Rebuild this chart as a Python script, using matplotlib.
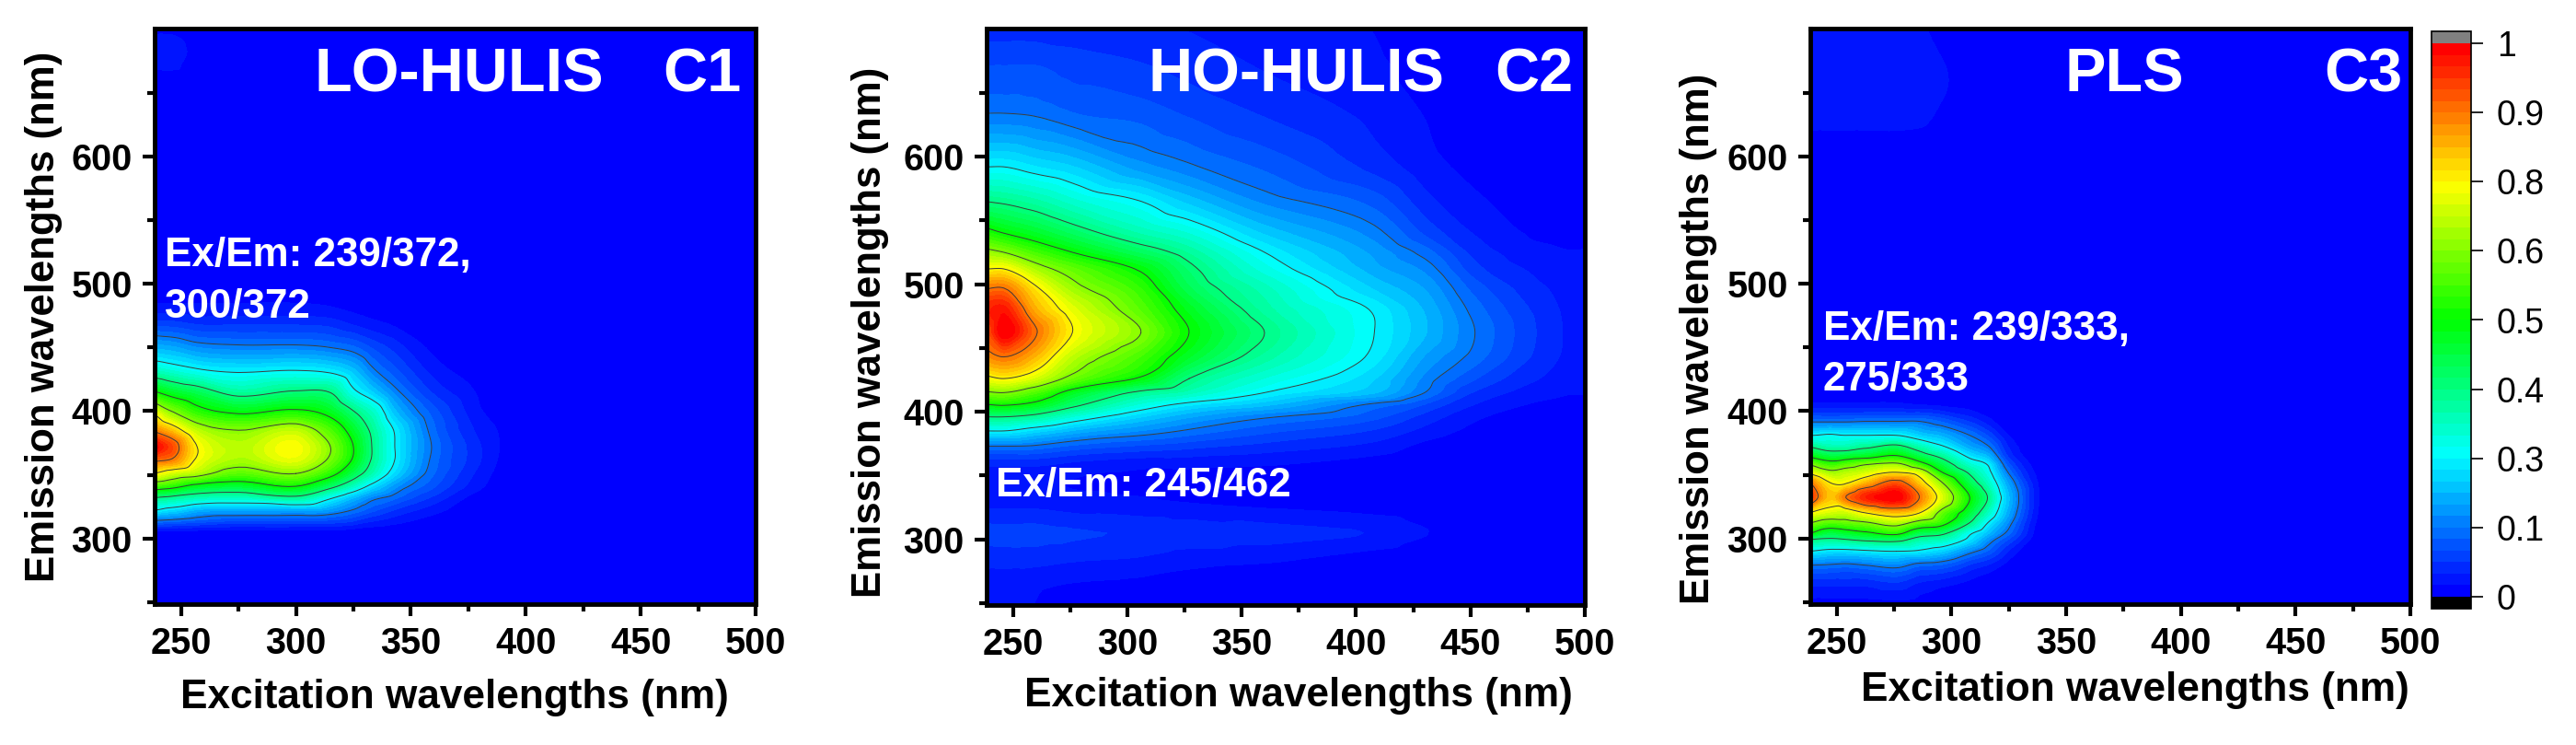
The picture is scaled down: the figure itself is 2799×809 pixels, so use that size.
import numpy as np
import matplotlib
matplotlib.use("Agg")
import matplotlib.pyplot as plt
from matplotlib.colors import LinearSegmentedColormap, ListedColormap, BoundaryNorm
from matplotlib.cm import ScalarMappable
from matplotlib.ticker import FixedLocator
from matplotlib.tri import Triangulation, UniformTriRefiner, CubicTriInterpolator

plt.rcParams['font.family'] = ['Liberation Sans', 'DejaVu Sans']
W, H = 2799, 809

# ---------- data ----------
ex1 = [238, 246, 257, 275, 300, 315, 325, 333, 343, 359, 378, 388, 400, 500]
em1 = [248, 295, 305, 314, 322, 332, 341, 351, 362, 372, 385, 398, 416, 432, 452, 470, 484, 510, 660, 672, 690, 701]
z1 = [
 [0,0,0,0,0,0,0,0,0,0,0,0,0,0],
 [0,0,0,0,0,0,0,0,0,0,0,0,0,0],
 [.012,.012,.012,.012,.012,.01,.008,.006,.004,.002,0,0,0,0],
 [.125,.115,.10,.085,.085,.08,.065,.045,.03,.012,0,0,0,0],
 [.25,.22,.18,.17,.17,.155,.12,.09,.06,.03,.005,0,0,0],
 [.375,.355,.325,.31,.355,.26,.19,.14,.11,.06,.012,0,0,0],
 [.56,.53,.47,.445,.50,.40,.31,.23,.155,.09,.03,.01,0,0],
 [.75,.70,.66,.58,.625,.53,.42,.33,.22,.11,.04,.015,0,0],
 [.90,.87,.74,.66,.72,.61,.49,.37,.25,.12,.05,.02,0,0],
 [1.0,.92,.75,.675,.74,.625,.50,.375,.25,.125,.05,.022,0,0],
 [.87,.80,.68,.625,.68,.57,.46,.36,.245,.115,.04,.02,0,0],
 [.75,.645,.55,.50,.53,.48,.39,.32,.20,.10,.03,.012,0,0],
 [.50,.45,.41,.34,.375,.365,.26,.205,.135,.06,.02,0,0,0],
 [.315,.29,.26,.24,.25,.235,.195,.135,.09,.035,.01,0,0,0],
 [.17,.16,.135,.125,.125,.115,.10,.075,.05,.015,.004,0,0,0],
 [.065,.065,.055,.055,.055,.05,.035,.025,.015,.005,0,0,0,0],
 [.022,.022,.022,.022,.022,.018,.012,.008,.004,0,0,0,0,0],
 [0,0,0,0,0,0,0,0,0,0,0,0,0,0],
 [0,0,0,0,0,0,0,0,0,0,0,0,0,0],
 [.03,.03,0,0,0,0,0,0,0,0,0,0,0,0],
 [.03,.03,.01,0,0,0,0,0,0,0,0,0,0,0],
 [.01,.01,0,0,0,0,0,0,0,0,0,0,0,0],
]

ex2 = [238, 246, 260, 276, 306, 327, 360, 408, 430, 452, 490, 500]
em2 = [248, 265, 285, 305, 325, 345, 360, 373, 385, 396, 405, 415, 426, 443, 462, 480, 497, 512, 525, 540, 565, 592, 634, 670, 701]
z2 = [
 [.025,.025,.02,.01,.005,0,0,0,0,0,0,0],
 [.03,.03,.025,.02,.015,.01,.005,0,0,0,0,0],
 [.05,.05,.05,.045,.04,.03,.025,.01,0,0,0,0],
 [.07,.07,.07,.065,.06,.055,.05,.04,.022,0,0,0],
 [.04,.04,.04,.035,.03,.025,.02,.012,.005,0,0,0],
 [.03,.03,.025,.02,.015,.01,.005,0,0,0,0,0],
 [.05,.05,.05,.04,.03,.03,.025,.012,.005,0,0,0],
 [.125,.125,.12,.10,.08,.07,.055,.035,.015,.005,0,0],
 [.25,.25,.22,.185,.145,.12,.09,.06,.035,.015,0,0],
 [.375,.375,.35,.29,.21,.17,.13,.09,.055,.025,.005,.005],
 [.49,.50,.47,.39,.28,.23,.19,.115,.08,.04,.012,.01],
 [.615,.625,.57,.47,.36,.32,.25,.19,.125,.06,.024,.022],
 [.73,.75,.70,.60,.49,.375,.29,.21,.14,.085,.032,.026],
 [.85,.875,.81,.68,.56,.46,.345,.24,.165,.115,.04,.032],
 [.90,1.0,.88,.75,.625,.50,.375,.25,.19,.125,.042,.032],
 [.95,.97,.82,.72,.58,.47,.345,.245,.185,.115,.04,.031],
 [.87,.875,.76,.65,.54,.42,.32,.205,.165,.095,.035,.028],
 [.75,.75,.66,.59,.49,.39,.28,.175,.14,.07,.03,.025],
 [.65,.625,.56,.50,.41,.35,.25,.16,.115,.055,.023,.022],
 [.53,.50,.46,.41,.33,.29,.205,.135,.08,.04,.012,.012],
 [.375,.365,.34,.30,.25,.20,.14,.095,.05,.025,.008,.006],
 [.25,.25,.23,.21,.155,.13,.10,.055,.03,.015,.005,.003],
 [.125,.125,.12,.105,.095,.08,.06,.035,.02,.01,0,0],
 [.085,.085,.085,.075,.065,.055,.04,.025,.012,.005,0,0],
 [.05,.05,.05,.05,.045,.04,.03,.02,.006,.002,0,0],
]

ex3 = [238, 247, 254, 263, 276, 286, 296, 308, 316, 325, 338, 350, 500]
em3 = [248, 265, 279, 290, 299, 304, 312, 320, 332, 344, 352, 358, 364, 372, 381, 392, 404, 415, 500, 612, 625, 660, 701]
z3 = [
 [.01,.01,.01,.01,.01,.01,0,0,0,0,0,0,0],
 [.05,.05,.05,.05,.06,.04,.03,.015,.006,0,0,0,0],
 [.125,.12,.115,.125,.14,.11,.10,.06,.04,.012,0,0,0],
 [.25,.23,.23,.24,.25,.24,.21,.14,.10,.04,0,0,0],
 [.375,.36,.37,.39,.40,.34,.32,.23,.15,.08,.004,0,0],
 [.50,.43,.45,.48,.52,.42,.39,.26,.19,.11,.008,0,0],
 [.625,.57,.585,.61,.66,.58,.53,.37,.245,.14,.012,0,0],
 [.75,.70,.69,.75,.80,.75,.59,.44,.31,.17,.018,0,0],
 [.95,.80,.875,.96,1.0,.875,.71,.50,.37,.19,.022,0,0],
 [.875,.75,.74,.81,.90,.79,.625,.42,.31,.16,.018,0,0],
 [.73,.65,.67,.70,.75,.70,.50,.36,.27,.12,.012,0,0],
 [.625,.55,.58,.625,.65,.55,.43,.30,.245,.09,.006,0,0],
 [.50,.45,.46,.48,.52,.44,.36,.24,.19,.06,0,0,0],
 [.375,.33,.33,.36,.40,.33,.26,.17,.13,.04,0,0,0],
 [.25,.26,.25,.25,.25,.21,.18,.125,.08,.02,0,0,0],
 [.12,.12,.12,.125,.125,.125,.10,.06,.03,0,0,0,0],
 [.03,.03,.03,.03,.03,.025,.02,.012,0,0,0,0,0],
 [.01,.01,.01,.01,.01,0,0,0,0,0,0,0,0],
 [0,0,0,0,0,0,0,0,0,0,0,0,0],
 [0,0,0,0,0,0,0,0,0,0,0,0,0],
 [.03,.03,.03,.03,.03,.025,.01,0,0,0,0,0,0],
 [.03,.03,.03,.03,.03,.03,.025,.005,0,0,0,0,0],
 [.03,.03,.03,.03,.03,.025,.01,0,0,0,0,0,0],
]

x_ticks = [250, 300, 350, 400, 450, 500]
y_ticks = [300, 400, 500, 600]
cb_ticks = [0, .125, .25, .375, .5, .625, .75, .875, 1]
cb_labels = ['0', '0.1', '0.3', '0.4', '0.5', '0.6', '0.8', '0.9', '1']
contour_levels = [.125, .25, .375, .5, .625, .75, .875]
xlabel = 'Excitation wavelengths (nm)'
ylabel = 'Emission wavelengths (nm)'
titles = ['LO-HULIS', 'HO-HULIS', 'PLS']
comps = ['C1', 'C2', 'C3']

# ---------- colours ----------
base = LinearSegmentedColormap.from_list('eem', ['#0000ff', '#00ffff', '#00ff00', '#ffff00', '#ff0000'])
cmap = ListedColormap(base(np.linspace(0, 1, 48)))
cmap.set_under('black')
cmap.set_over('#808080')
levels = np.linspace(0, 1, 49)
norm = BoundaryNorm(levels, cmap.N)

fig = plt.figure(figsize=(W / 100, H / 100), dpi=100, facecolor='white')


def axes_px(l, r, t, b):
    return fig.add_axes([l / W, 1 - b / H, (r - l) / W, (b - t) / H])


def text_px(x, y, s, **kw):
    fig.text(x / W, 1 - y / H, s, fontweight='bold', **kw)


panels = [
    dict(ex=ex1, em=em1, z=z1, box=(168, 821, 31, 656), xl=(494, 758), yl=(48, 344),
         title=(342, 83), comp=(720, 83), notes=[(179, 278, 'Ex/Em: 239/372,'), (179, 333, '300/372')]),
    dict(ex=ex2, em=em2, z=z2, box=(1072, 1722, 31, 657), xl=(1411, 755), yl=(945, 361),
         title=(1248, 83), comp=(1624, 83), notes=[(1082, 528, 'Ex/Em: 245/462')]),
    dict(ex=ex3, em=em3, z=z3, box=(1967, 2619, 31, 656), xl=(2320, 750), yl=(1845, 368),
         title=(2243, 83), comp=(2525, 83), notes=[(1981, 358, 'Ex/Em: 239/333,'), (1981, 413, '275/333')]),
]

for i, p in enumerate(panels):
    ax = axes_px(*p['box'])
    ax.set_facecolor('#0000ff')
    X, Y = np.meshgrid(p['ex'], p['em'])
    Z = np.array(p['z'], dtype=float)
    tri = Triangulation(X.ravel(), Y.ravel() * 1.0)
    interp = CubicTriInterpolator(tri, Z.ravel(), kind='geom')
    fine, zf = UniformTriRefiner(tri).refine_field(Z.ravel(), triinterpolator=interp, subdiv=3)
    zf = np.clip(np.ma.filled(zf, 0), 0.0005, 0.9995)
    ax.tricontourf(fine, zf, levels=levels, cmap=cmap, norm=norm)
    ax.tricontour(fine, zf, levels=contour_levels, colors='#3c3c3c', linewidths=0.7)
    ax.set_xlim(238.5, 500)
    ax.set_ylim(248.5, 700.4)
    ax.xaxis.set_major_locator(FixedLocator(x_ticks))
    ax.yaxis.set_major_locator(FixedLocator(y_ticks))
    ax.xaxis.set_minor_locator(FixedLocator([275, 325, 375, 425, 475]))
    ax.yaxis.set_minor_locator(FixedLocator([250, 350, 450, 550, 650]))
    ax.tick_params(which='major', length=9.5, width=3.0, pad=8, labelsize=28.5)
    ax.tick_params(which='minor', length=5.5, width=3.0)
    for lab in ax.get_xticklabels() + ax.get_yticklabels():
        lab.set_fontweight('bold')
    for s in ax.spines.values():
        s.set_linewidth(3.5)
    text_px(p['xl'][0], p['xl'][1], xlabel, fontsize=31.8, ha='center', va='center')
    text_px(p['yl'][0], p['yl'][1], ylabel, fontsize=31.5, ha='center', va='center', rotation=90)
    text_px(p['title'][0], p['title'][1], titles[i], fontsize=48, color='white', ha='left', va='center')
    text_px(p['comp'][0], p['comp'][1], comps[i], fontsize=48, color='white', ha='left', va='center')
    for nx, ny, s in p['notes']:
        text_px(nx, ny, s, fontsize=31.7, color='white', ha='left', va='center')

# ---------- colour bar ----------
cax = fig.add_axes([2642 / W, 1 - 661 / H, 43 / W, (661 - 34) / H])
sm = ScalarMappable(norm=norm, cmap=cmap)
cb = fig.colorbar(sm, cax=cax, extend='both', extendrect=True, extendfrac=0.0216,
                  spacing='proportional', drawedges=False)
cb.set_ticks(cb_ticks)
cb.set_ticklabels(cb_labels)
cb.minorticks_off()
cb.ax.tick_params(length=9, width=1.4, pad=11, labelsize=27, color='#222222')
cb.outline.set_linewidth(1.2)

fig.savefig('out.png', dpi=100)
